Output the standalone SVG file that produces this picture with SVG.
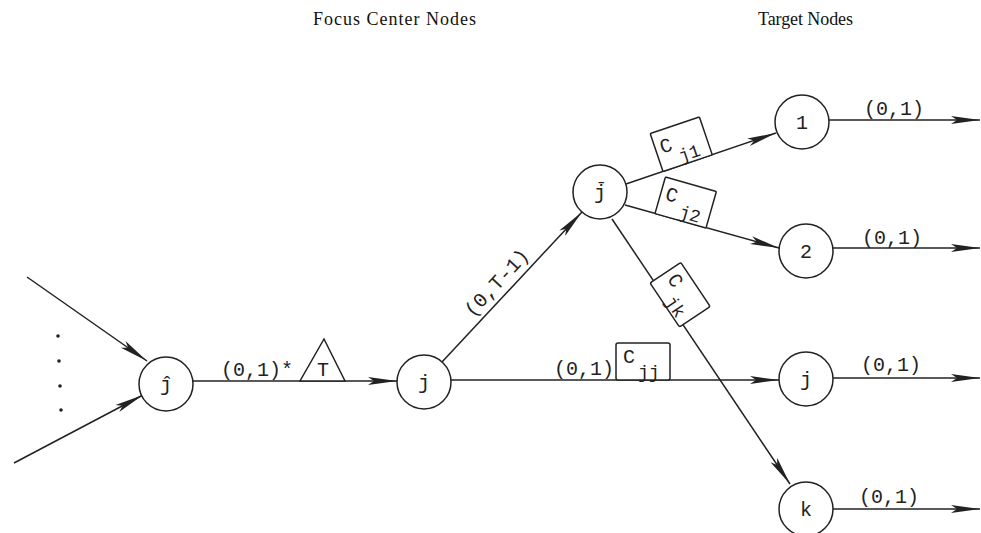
<svg xmlns="http://www.w3.org/2000/svg" width="981" height="533" viewBox="0 0 981 533">
<style>
.ln{stroke:#222;stroke-width:1.5;fill:none}
.arr{marker-end:url(#ah)}
.nd{fill:#fff;stroke:#222;stroke-width:1.5}
.nt{font-family:"Liberation Mono",monospace;font-size:20px;fill:#222;text-anchor:middle}
.lb{font-family:"Liberation Mono",monospace;font-size:20px;fill:#222}
.bx{fill:#fff;stroke:#222;stroke-width:1.5}
.bc{font-family:"Liberation Mono",monospace;font-size:20px;fill:#222}
.bs{font-family:"Liberation Mono",monospace;font-size:18px;fill:#222}
.hd{font-family:"Liberation Serif",serif;font-size:18px;fill:#111}
</style>
<defs>
<marker id="ah" viewBox="-31 -5 32 10" refX="0" refY="0" markerWidth="32" markerHeight="10" orient="auto" markerUnits="userSpaceOnUse">
<path d="M0,0 L-29,-4 L-23,0 L-29,4 Z" fill="#222"/>
</marker>
</defs>

<g id="headers">
<text class="hd" x="313" y="25" textLength="163">Focus Center Nodes</text>
<text class="hd" x="758" y="25" textLength="95">Target Nodes</text>
</g>

<g id="connectors">
<path class="ln arr" d="M27,277 L147,361"/>
<path class="ln arr" d="M14,463 L143,395"/>
<path class="ln arr" d="M193,381 L397,381"/>
<path class="ln arr" d="M442,362 L582,212"/>
<path class="ln arr" d="M451,380 L779,380"/>
<path class="ln arr" d="M626,184 L776,133"/>
<path class="ln arr" d="M625,205 L779,248"/>
<path class="ln arr" d="M612,219 L790,484"/>
<path class="ln arr" d="M829,120 L980,120"/>
<path class="ln arr" d="M833,248 L980,248"/>
<path class="ln arr" d="M833,378 L980,378"/>
<path class="ln arr" d="M833,509 L980,509"/>
</g>

<g id="dots" fill="#222">
<circle cx="58" cy="336" r="1.8"/>
<circle cx="59" cy="361" r="1.8"/>
<circle cx="60" cy="386" r="1.8"/>
<circle cx="61" cy="410" r="1.8"/>
</g>

<g id="edge-labels">
<text class="lb" x="221" y="376">(0,1)*</text>
<g id="tri-T">
<polygon class="bx" points="300,381 345,381 324,339"/>
<text class="nt" x="323" y="376">T</text>
</g>
<text class="lb" transform="translate(497,283) rotate(-47.2)" text-anchor="middle" y="6">(0,T-1)</text>
<text class="lb" x="554" y="375">(0,1)</text>
<text class="lb" x="864" y="115">(0,1)</text>
<text class="lb" x="862" y="244">(0,1)</text>
<text class="lb" x="861" y="371">(0,1)</text>
<text class="lb" x="859" y="503">(0,1)</text>
</g>

<g id="box-cjj" transform="translate(616,380)">
<rect class="bx" x="0" y="-37" width="54" height="37" rx="2"/>
<text class="bc" x="7" y="-17">C</text>
<text class="bs" x="22" y="-2">jj</text>
</g>
<g id="box-cj1" transform="translate(663,171.5) rotate(-18.7)">
<rect class="bx" x="0" y="-40" width="52" height="40" rx="1"/>
<text class="bc" x="5" y="-17">C</text>
<text class="bs" x="20" y="-3">j1</text>
</g>
<g id="box-cj2" transform="translate(655,213.6) rotate(15.9)">
<rect class="bx" x="0" y="-38" width="53" height="38" rx="1"/>
<text class="bc" x="5" y="-16">C</text>
<text class="bs" x="23" y="-3">j2</text>
</g>
<g id="box-cjk" transform="translate(650,283) rotate(56.2)">
<rect class="bx" x="0" y="-37" width="53" height="37" rx="2"/>
<text class="bc" x="6" y="-16">C</text>
<text class="bs" x="23" y="-2">jk</text>
</g>

<g id="node-jhat">
<circle class="nd" cx="166" cy="384" r="27"/>
<text class="nt" x="166" y="391">j&#x302;</text>
</g>
<g id="node-j">
<circle class="nd" cx="424" cy="382" r="27"/>
<text class="nt" x="424" y="389">j</text>
</g>
<g id="node-jbar">
<circle class="nd" cx="600" cy="192" r="27"/>
<text class="nt" x="600" y="199">j&#x304;</text>
</g>
<g id="node-1">
<circle class="nd" cx="802" cy="122" r="27"/>
<text class="nt" x="802" y="129">1</text>
</g>
<g id="node-2">
<circle class="nd" cx="806" cy="251" r="27"/>
<text class="nt" x="806" y="258">2</text>
</g>
<g id="node-jt">
<circle class="nd" cx="806" cy="379" r="27"/>
<text class="nt" x="806" y="386">j</text>
</g>
<g id="node-k">
<circle class="nd" cx="806" cy="509" r="27"/>
<text class="nt" x="806" y="516">k</text>
</g>
</svg>
